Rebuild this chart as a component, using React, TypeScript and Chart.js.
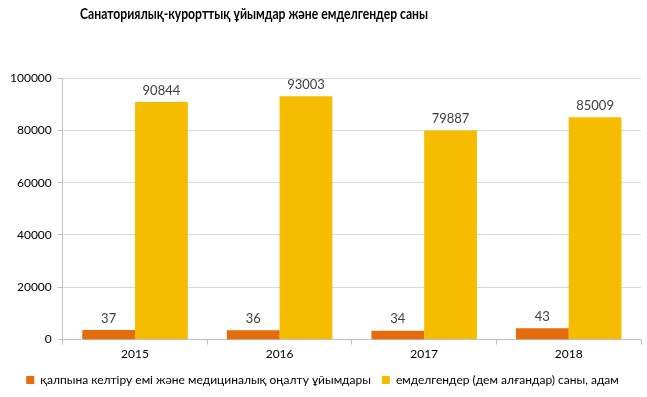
import React, { useEffect, useRef } from "react";
import { Chart, registerables } from "chart.js";

Chart.register(...registerables);

const years = ["2015", "2016", "2017", "2018"];
const institutions = [37, 36, 34, 43];
const patients = [90844, 93003, 79887, 85009];
const yTicks = [0, 20000, 40000, 60000, 80000, 100000];
const seriesNames = [
  "қалпына келтіру емі және медициналық оңалту ұйымдары",
  "емделгендер (дем алғандар) саны, адам",
];
const titleText = "Санаториялық-курорттық ұйымдар және емделгендер саны";

const FONT = "Lato, 'Open Sans', sans-serif";

export default function App() {
  const ref = useRef<HTMLCanvasElement>(null);
  useEffect(() => {
    document.body.style.margin = "0";
    const titlePlugin = {
      id: "customTitle",
      afterDraw(chart: any) {
        const ctx = chart.ctx;
        ctx.save();
        ctx.font = `bold 15px ${FONT}`;
        ctx.fillStyle = "#000";
        ctx.textAlign = "center";
        ctx.textBaseline = "middle";
        ctx.fillText(titleText, 254, 14, 348);
        ctx.restore();
      },
    };
    const labelPlugin = {
      id: "valueLabels",
      afterDatasetsDraw(chart: any) {
        const ctx = chart.ctx;
        ctx.save();
        ctx.font = `13px ${FONT}`;
        ctx.fillStyle = "#404040";
        ctx.textAlign = "center";
        ctx.textBaseline = "bottom";
        chart.data.datasets.forEach((ds: any, i: number) => {
          const meta = chart.getDatasetMeta(i);
          meta.data.forEach((bar: any, j: number) => {
            ctx.fillText(String(ds.data[j]), bar.x, bar.y - 5);
          });
        });
        ctx.restore();
      },
    };
    const chart = new Chart(ref.current!, {
      type: "bar",
      data: {
        labels: years,
        datasets: [
          {
            label: seriesNames[0],
            data: institutions,
            backgroundColor: "#E46C0A",
            yAxisID: "y1",
            barPercentage: 1,
            categoryPercentage: 0.73,
          },
          {
            label: seriesNames[1],
            data: patients,
            backgroundColor: "#F6BD00",
            yAxisID: "y",
            barPercentage: 1,
            categoryPercentage: 0.73,
          },
        ],
      },
      options: {
        animation: false,
        responsive: false,
        layout: { padding: { top: 78, right: 6, left: 4, bottom: 1 } },
        plugins: {
          title: { display: false },
          tooltip: { enabled: false },
          legend: {
            position: "bottom",
            labels: {
              boxWidth: 8,
              boxHeight: 8,
              padding: 11,
              color: "#000",
              font: { family: FONT, size: 12 },
            },
          },
        },
        scales: {
          x: {
            grid: {
              offset: true,
              drawOnChartArea: false,
              drawTicks: true,
              tickLength: 5,
              color: "#BFBFBF",
            },
            border: { color: "#BFBFBF" },
            ticks: { color: "#000", font: { family: FONT, size: 12 }, padding: 2 },
          },
          y: {
            min: 0,
            max: 100000,
            afterBuildTicks(axis: any) {
              axis.ticks = yTicks.map((v) => ({ value: v }));
            },
            grid: { color: "#D9D9D9", tickLength: 5, tickColor: "#BFBFBF" },
            border: { color: "#BFBFBF" },
            ticks: {
              color: "#000",
              font: { family: FONT, size: 12 },
              padding: 6,
              callback: (v: any) => String(v),
            },
          },
          y1: {
            display: false,
            min: 0,
            max: 1000,
          },
        },
      },
      plugins: [titlePlugin, labelPlugin],
    });
    return () => chart.destroy();
  }, []);
  return <canvas ref={ref} width={647} height={397} style={{ display: "block" }} />;
}
